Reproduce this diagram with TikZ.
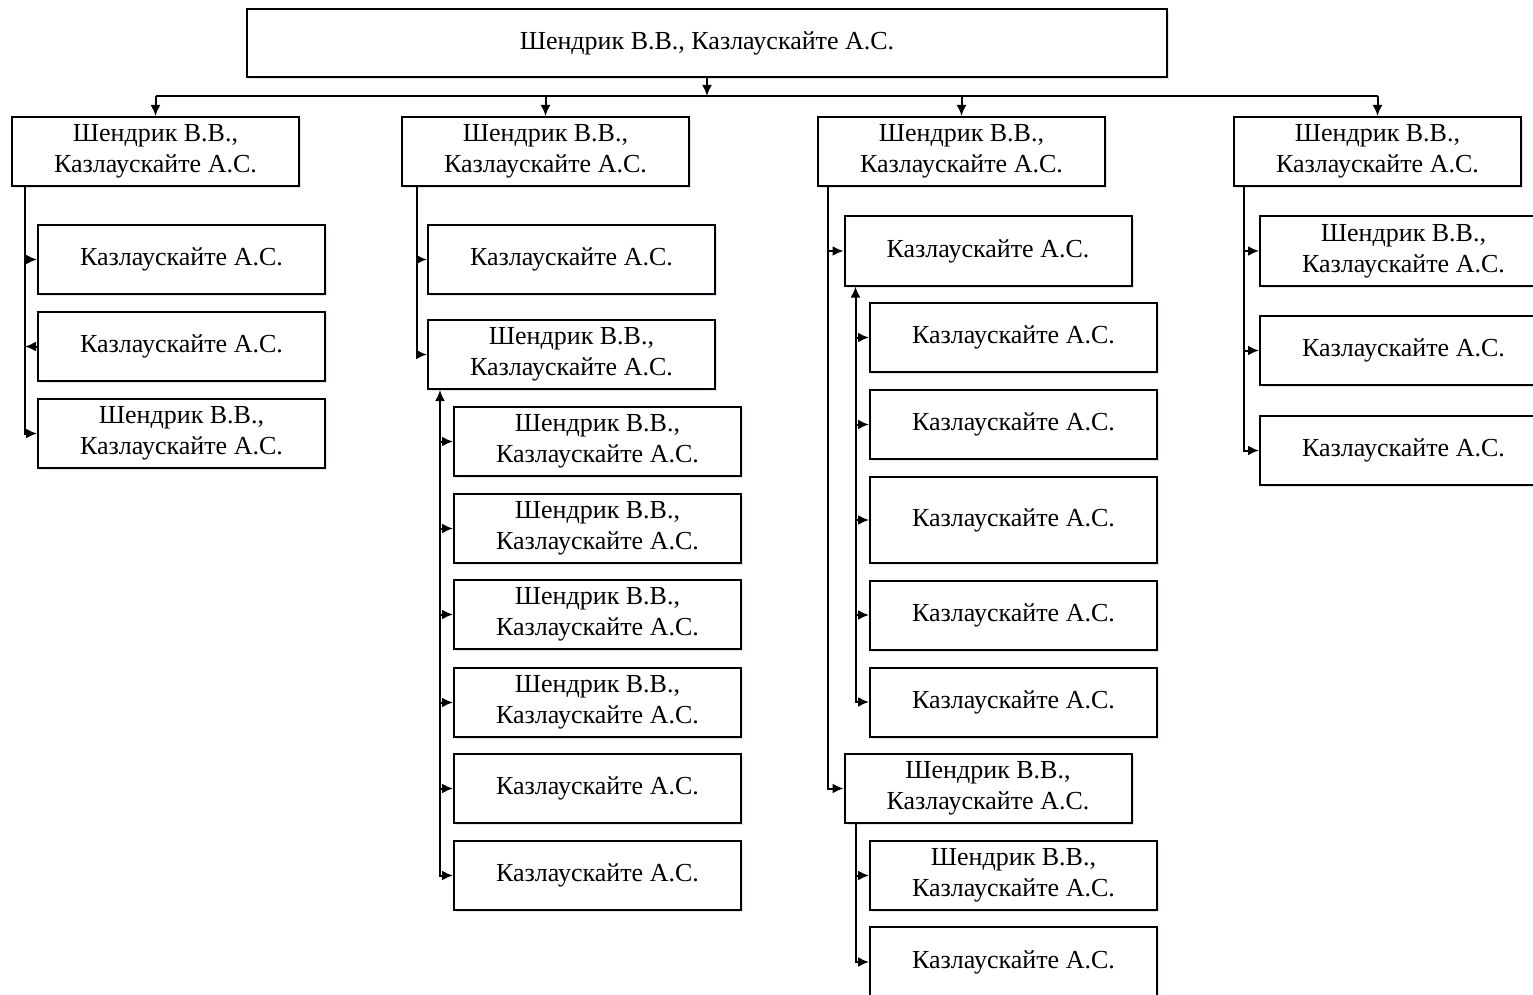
\documentclass[tikz,border=0pt]{standalone}
\usepackage{fontspec}
\setmainfont{Liberation Serif}
\usetikzlibrary{arrows.meta,shadows,calc}
\begin{document}
\begin{tikzpicture}[x=0.5pt,y=-0.5pt,
  box/.style={draw, line width=1pt, fill=white, minimum width=143.5pt, minimum height=34.5pt,
    inner sep=0pt, align=center, font=\fontsize{13}{15.5}\selectfont,
    drop shadow={shadow xshift=1pt, shadow yshift=-1.2pt, fill=blue!25!gray!35, opacity=0.5}},
  ln/.style={line width=1pt},
  arr/.style={ln, -{Latex[length=5.5pt,width=5pt]}},
  arrb/.style={ln, {Latex[length=5.5pt,width=5pt]}-{Latex[length=5.5pt,width=5pt]}}]
\clip (0,0) rectangle (1533,995);
\fill[white] (0,0) rectangle (1533,995);
\def\SK{Шендрик В.В.,\\Казлаускайте А.С.}
\def\K{Казлаускайте А.С.}
% root and level 1
\node[box, minimum width=460pt, minimum height=34pt] (root) at (707,43) {Шендрик В.В., Казлаускайте А.С.};
\node[box] (a1) at (155.5,151.5) {\SK};
\node[box] (a2) at (545.5,151.5) {\SK};
\node[box] (a3) at (961.5,151.5) {\SK};
\node[box] (a4) at (1377.5,151.5) {\SK};
% column 1
\node[box] (c11) at (181.5,259.5) {\K};
\node[box] (c12) at (181.5,346.5) {\K};
\node[box] (c13) at (181.5,433.5) {\SK};
% column 2
\node[box] (b1) at (571.5,259.5) {\K};
\node[box] (b2) at (571.5,354.5) {\SK};
\node[box] (b21) at (597.5,441.5) {\SK};
\node[box] (b22) at (597.5,528.5) {\SK};
\node[box] (b23) at (597.5,614.5) {\SK};
\node[box] (b24) at (597.5,702.5) {\SK};
\node[box] (b25) at (597.5,788.5) {\K};
\node[box] (b26) at (597.5,875.5) {\K};
% column 3
\node[box] (e1) at (988,251) {\K};
\node[box] (e11) at (1013.5,337.5) {\K};
\node[box] (e12) at (1013.5,424.5) {\K};
\node[box, minimum height=43pt] (e13) at (1013.5,520) {\K};
\node[box] (e14) at (1013.5,615) {\K};
\node[box] (e15) at (1013.5,702) {\K};
\node[box] (e2) at (988,788.5) {\SK};
\node[box] (e21) at (1013.5,875.5) {\SK};
\node[box, minimum height=35pt] (e22) at (1013.5,962) {\K};
% column 4
\node[box] (d1) at (1403.5,251) {\SK};
\node[box] (d2) at (1403.5,350.5) {\K};
\node[box] (d3) at (1403.5,450.5) {\K};
% bus
\coordinate (bus) at (707,96);
\draw[arr] (root.south) -- (root.south |- bus);
\draw[ln] (a1.north |- bus) -- (a4.north |- bus);
\foreach \n in {a1,a2,a3,a4} \draw[arr] (\n.north |- bus) -- (\n.north);
% column 1 connectors
\coordinate (t1) at ([xshift=7pt]a1.south west);
\draw[arr] (t1) |- (c13.west);
\draw[arr] (t1 |- c11.west) -- (c11.west);
\draw[arr] (c12.west) -- (t1 |- c12.west);
% column 2 connectors
\coordinate (t2) at ([xshift=8pt]a2.south west);
\draw[arr] (t2) |- (b2.west);
\draw[arr] (t2 |- b1.west) -- (b1.west);
\coordinate (s2) at ([xshift=6.5pt]b2.south west);
\draw[arrb] (s2) |- (b26.west);
\foreach \n in {b21,b22,b23,b24,b25} \draw[arr] (s2 |- \n.west) -- (\n.west);
% column 3 connectors
\coordinate (t3) at ([xshift=5.5pt]a3.south west);
\draw[arr] (t3) |- (e2.west);
\draw[arr] (t3 |- e1.west) -- (e1.west);
\coordinate (s31) at ([xshift=6pt]e1.south west);
\draw[arrb] (s31) |- (e15.west);
\foreach \n in {e11,e12,e13,e14} \draw[arr] (s31 |- \n.west) -- (\n.west);
\coordinate (s32) at ([xshift=6pt]e2.south west);
\draw[arr] (s32) |- (e22.west);
\draw[arr] (s32 |- e21.west) -- (e21.west);
% column 4 connectors
\coordinate (t4) at ([xshift=5.5pt]a4.south west);
\draw[arr] (t4) |- (d3.west);
\foreach \n in {d1,d2} \draw[arr] (t4 |- \n.west) -- (\n.west);
\end{tikzpicture}
\end{document}
